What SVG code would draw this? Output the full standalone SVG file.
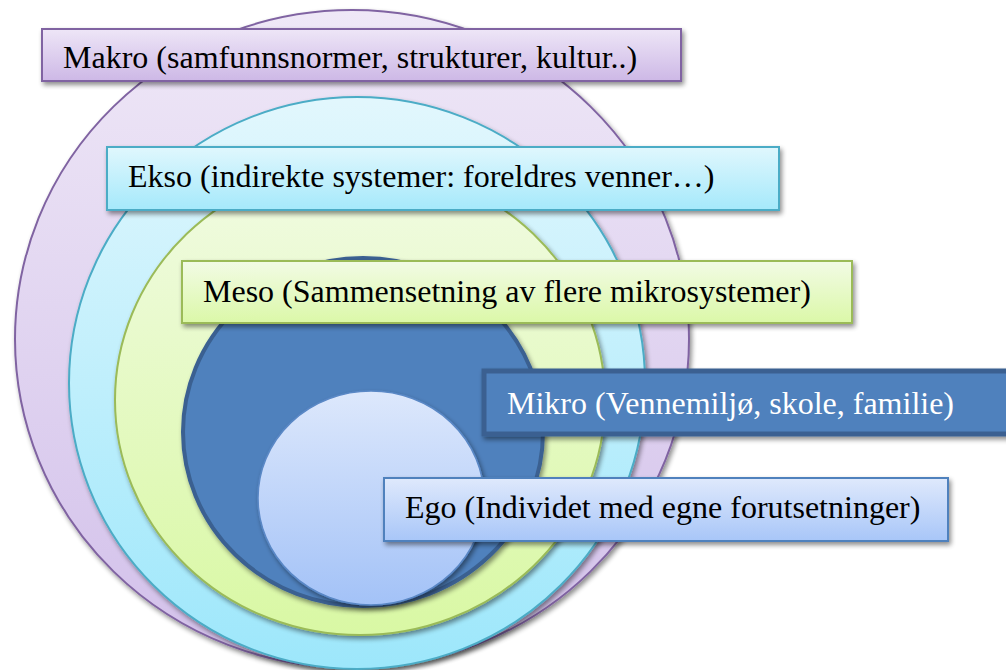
<svg xmlns="http://www.w3.org/2000/svg" width="1006" height="670" viewBox="0 0 1006 670">
<style>
.w{fill:#fff}
</style>
<defs>
<filter id="sh" x="-10%" y="-10%" width="130%" height="130%">
<feGaussianBlur in="SourceAlpha" stdDeviation="2.5"/>
<feOffset dx="2" dy="3" result="b"/>
<feComponentTransfer><feFuncA type="linear" slope="0.45"/></feComponentTransfer>
<feMerge><feMergeNode/><feMergeNode in="SourceGraphic"/></feMerge>
</filter>
<linearGradient id="gMa" x1="0" y1="0" x2="0" y2="1"><stop offset="0" stop-color="#efe8f7"/><stop offset="1" stop-color="#d2c0ea"/></linearGradient>
<linearGradient id="gMaR" x1="0" y1="0" x2="0" y2="1"><stop offset="0" stop-color="#eee6f7"/><stop offset="1" stop-color="#cdb8e6"/></linearGradient>
<linearGradient id="gEk" x1="0" y1="0" x2="0" y2="1"><stop offset="0" stop-color="#e2f7fd"/><stop offset="1" stop-color="#9de7fb"/></linearGradient>
<linearGradient id="gEkR" x1="0" y1="0" x2="0" y2="1"><stop offset="0" stop-color="#e0f7fd"/><stop offset="1" stop-color="#a5e9fb"/></linearGradient>
<linearGradient id="gMe" x1="0" y1="0" x2="0" y2="1"><stop offset="0" stop-color="#f1fbe3"/><stop offset="1" stop-color="#d9f8a4"/></linearGradient>
<linearGradient id="gMeR" x1="0" y1="0" x2="0" y2="1"><stop offset="0" stop-color="#f2fbe5"/><stop offset="1" stop-color="#dbf8a8"/></linearGradient>
<linearGradient id="gEg" x1="0" y1="0" x2="0" y2="1"><stop offset="0" stop-color="#dde8fc"/><stop offset="1" stop-color="#a3c2f7"/></linearGradient>
<linearGradient id="gEgR" x1="0" y1="0" x2="0" y2="1"><stop offset="0" stop-color="#dfe9fc"/><stop offset="1" stop-color="#a8c6f8"/></linearGradient>
</defs>
<g id="rings">
<g id="makro-ring"><ellipse cx="352" cy="339" rx="337" ry="329" fill="url(#gMa)" stroke="#8064a2" stroke-width="2" filter="url(#sh)"/></g>
<g id="ekso-ring"><ellipse cx="357" cy="383" rx="288" ry="286" fill="url(#gEk)" stroke="#4bacc6" stroke-width="2" filter="url(#sh)"/></g>
<g id="meso-ring"><ellipse cx="360" cy="400" rx="245" ry="235" fill="url(#gMe)" stroke="#9bbb59" stroke-width="2" filter="url(#sh)"/></g>
<g id="mikro-ring"><ellipse cx="363" cy="432" rx="180" ry="174" fill="#4f81bd" stroke="#3a6191" stroke-width="4" filter="url(#sh)"/></g>
<g id="ego-ring"><ellipse cx="371" cy="498" rx="113" ry="107" fill="url(#gEg)" stroke="#5a88c6" stroke-width="1.5" filter="url(#sh)"/></g>
</g>
<g id="connectors"/>
<g font-family="'Liberation Serif', 'Times New Roman', 'DejaVu Serif', serif" font-size="32" fill="#000">
<g id="makro-label"><rect x="42" y="29" width="639" height="52" fill="url(#gMaR)" stroke="#8064a2" stroke-width="2" filter="url(#sh)"/><text x="63" y="68">Makro (samfunnsnormer, strukturer, kultur..)</text></g>
<g id="ekso-label"><rect x="107" y="147" width="672" height="63" fill="url(#gEkR)" stroke="#4bacc6" stroke-width="2" filter="url(#sh)"/><text x="128" y="187">Ekso (indirekte systemer: foreldres venner…)</text></g>
<g id="meso-label"><rect x="182" y="261" width="670" height="62" fill="url(#gMeR)" stroke="#9bbb59" stroke-width="2" filter="url(#sh)"/><text x="203" y="302">Meso (Sammensetning av flere mikrosystemer)</text></g>
<g id="mikro-label"><rect x="484" y="371" width="530" height="63" fill="#4f81bd" stroke="#3a6191" stroke-width="5" filter="url(#sh)"/><text class="w" x="507" y="414">Mikro (Vennemiljø, skole, familie)</text></g>
<g id="ego-label"><rect x="384" y="478" width="564" height="63" fill="url(#gEgR)" stroke="#4f81bd" stroke-width="2" filter="url(#sh)"/><text x="405" y="518">Ego (Individet med egne forutsetninger)</text></g>
</g>
</svg>
